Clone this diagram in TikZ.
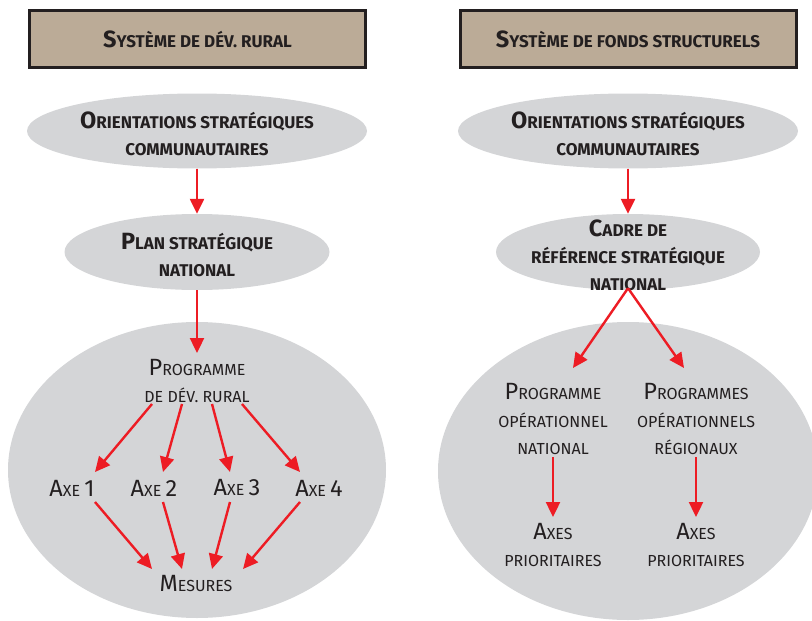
\documentclass[tikz,border=0pt]{standalone}
\usepackage{fontspec}
\setmainfont{Fira Sans}
\usetikzlibrary{shapes.geometric,arrows.meta}
\definecolor{tanbox}{HTML}{BBAB97}
\definecolor{pale}{HTML}{D4D5D7}
\definecolor{redarr}{HTML}{ED1C24}
\definecolor{ink}{HTML}{231F20}
\newcommand\Bc[1]{{\fontsize{23.5}{23.5}\selectfont #1}}
\begin{document}
\begin{tikzpicture}[x=1pt,y=-1pt,
 titlebox/.style={draw=ink,line width=3pt,fill=tanbox,minimum width=336pt,minimum height=57pt,inner sep=0pt,
   text=ink,font=\fontsize{17}{27}\bfseries\selectfont},
 blob/.style={ellipse,fill=pale,inner sep=0pt},
 boldlbl/.style={text=ink,font=\fontsize{17}{27}\bfseries\selectfont,align=center,inner sep=0pt},
 lbl/.style={text=ink,font=\fontsize{16}{27.5}\selectfont,align=center,inner sep=0pt},
 arr/.style={draw=redarr,line width=2.4pt,-{Triangle[length=15pt,width=14pt]}}]
\useasboundingbox (0,0) rectangle (812,621);
\clip (0,0) rectangle (812,621);
% title boxes
\node[titlebox] (tL) at (197.5,39) {\Bc{S}YSTÈME DE DÉV. RURAL};
\node[titlebox] (tR) at (628,39) {\Bc{S}YSTÈME DE FONDS STRUCTURELS};
% ellipses
\node[blob,minimum width=340pt,minimum height=75pt] (oL) at (197,131) {};
\node[blob,minimum width=265pt,minimum height=76pt] (pL) at (197,252) {};
\node[blob,minimum width=378pt,minimum height=296pt] (bL) at (197,470) {};
\node[blob,minimum width=340pt,minimum height=75pt] (oR) at (628,131) {};
\node[blob,minimum width=264pt,minimum height=76pt] (cR) at (628,252) {};
\node[blob,minimum width=380pt,minimum height=298pt] (bR) at (628,471) {};
% bold labels
\node[boldlbl] (oLt) at (197,134) {\Bc{O}RIENTATIONS STRATÉGIQUES\\COMMUNAUTAIRES};
\node[boldlbl] (pLt) at (197,255) {\Bc{P}LAN STRATÉGIQUE\\NATIONAL};
\node[boldlbl] (oRt) at (628,134) {\Bc{O}RIENTATIONS STRATÉGIQUES\\COMMUNAUTAIRES};
\node[boldlbl] (cRt) at (628,255) {\Bc{C}ADRE DE\\RÉFÉRENCE STRATÉGIQUE\\NATIONAL};
% regular labels left
\node[lbl] (pdr) at (197,381) {\Bc{P}ROGRAMME\\DE DÉV. RURAL};
\node[lbl] (ax1) at (72,488) {\Bc{A}XE \Bc{1}};
\node[lbl] (ax2) at (154,488) {\Bc{A}XE \Bc{2}};
\node[lbl] (ax3) at (237,488) {\Bc{A}XE \Bc{3}};
\node[lbl] (ax4) at (319,488) {\Bc{A}XE \Bc{4}};
\node[lbl] (mes) at (196,583) {\Bc{M}ESURES};
% regular labels right
\node[lbl] (pon) at (553,419) {\Bc{P}ROGRAMME\\OPÉRATIONNEL\\NATIONAL};
\node[lbl] (por) at (696,419) {\Bc{P}ROGRAMMES\\OPÉRATIONNELS\\RÉGIONAUX};
\node[lbl] (axN) at (553,545) {\Bc{A}XES\\PRIORITAIRES};
\node[lbl] (axR) at (696,545) {\Bc{A}XES\\PRIORITAIRES};
% arrows left
\draw[arr] (oL.south) -- (pL.north);
\draw[arr] (pL.south) -- ([shift={(0,-28)}]pdr.center);
\draw[arr] ([shift={(-45,23)}]pdr.center) -- ([shift={(23,-16)}]ax1.center);
\draw[arr] ([shift={(-15,23)}]pdr.center) -- ([shift={(9,-16)}]ax2.center);
\draw[arr] ([shift={(15,23)}]pdr.center) -- ([shift={(-7,-16)}]ax3.center);
\draw[arr] ([shift={(45,23)}]pdr.center) -- ([shift={(-19,-16)}]ax4.center);
\draw[arr] ([shift={(23,14)}]ax1.center) -- ([shift={(-44,-14)}]mes.center);
\draw[arr] ([shift={(9,14)}]ax2.center) -- ([shift={(-14,-14)}]mes.center);
\draw[arr] ([shift={(-7,14)}]ax3.center) -- ([shift={(16,-14)}]mes.center);
\draw[arr] ([shift={(-19,14)}]ax4.center) -- ([shift={(47,-14)}]mes.center);
% arrows right
\draw[arr] (oR.south) -- (cR.north);
\draw[arr] ([yshift=2pt]cR.south) -- ([shift={(20,-51)}]pon.center);
\draw[arr] ([yshift=2pt]cR.south) -- ([shift={(-12,-51)}]por.center);
\draw[arr] ([shift={(0,38)}]pon.center) -- ([shift={(0,-28)}]axN.center);
\draw[arr] ([shift={(0,38)}]por.center) -- ([shift={(0,-28)}]axR.center);
\end{tikzpicture}
\end{document}
